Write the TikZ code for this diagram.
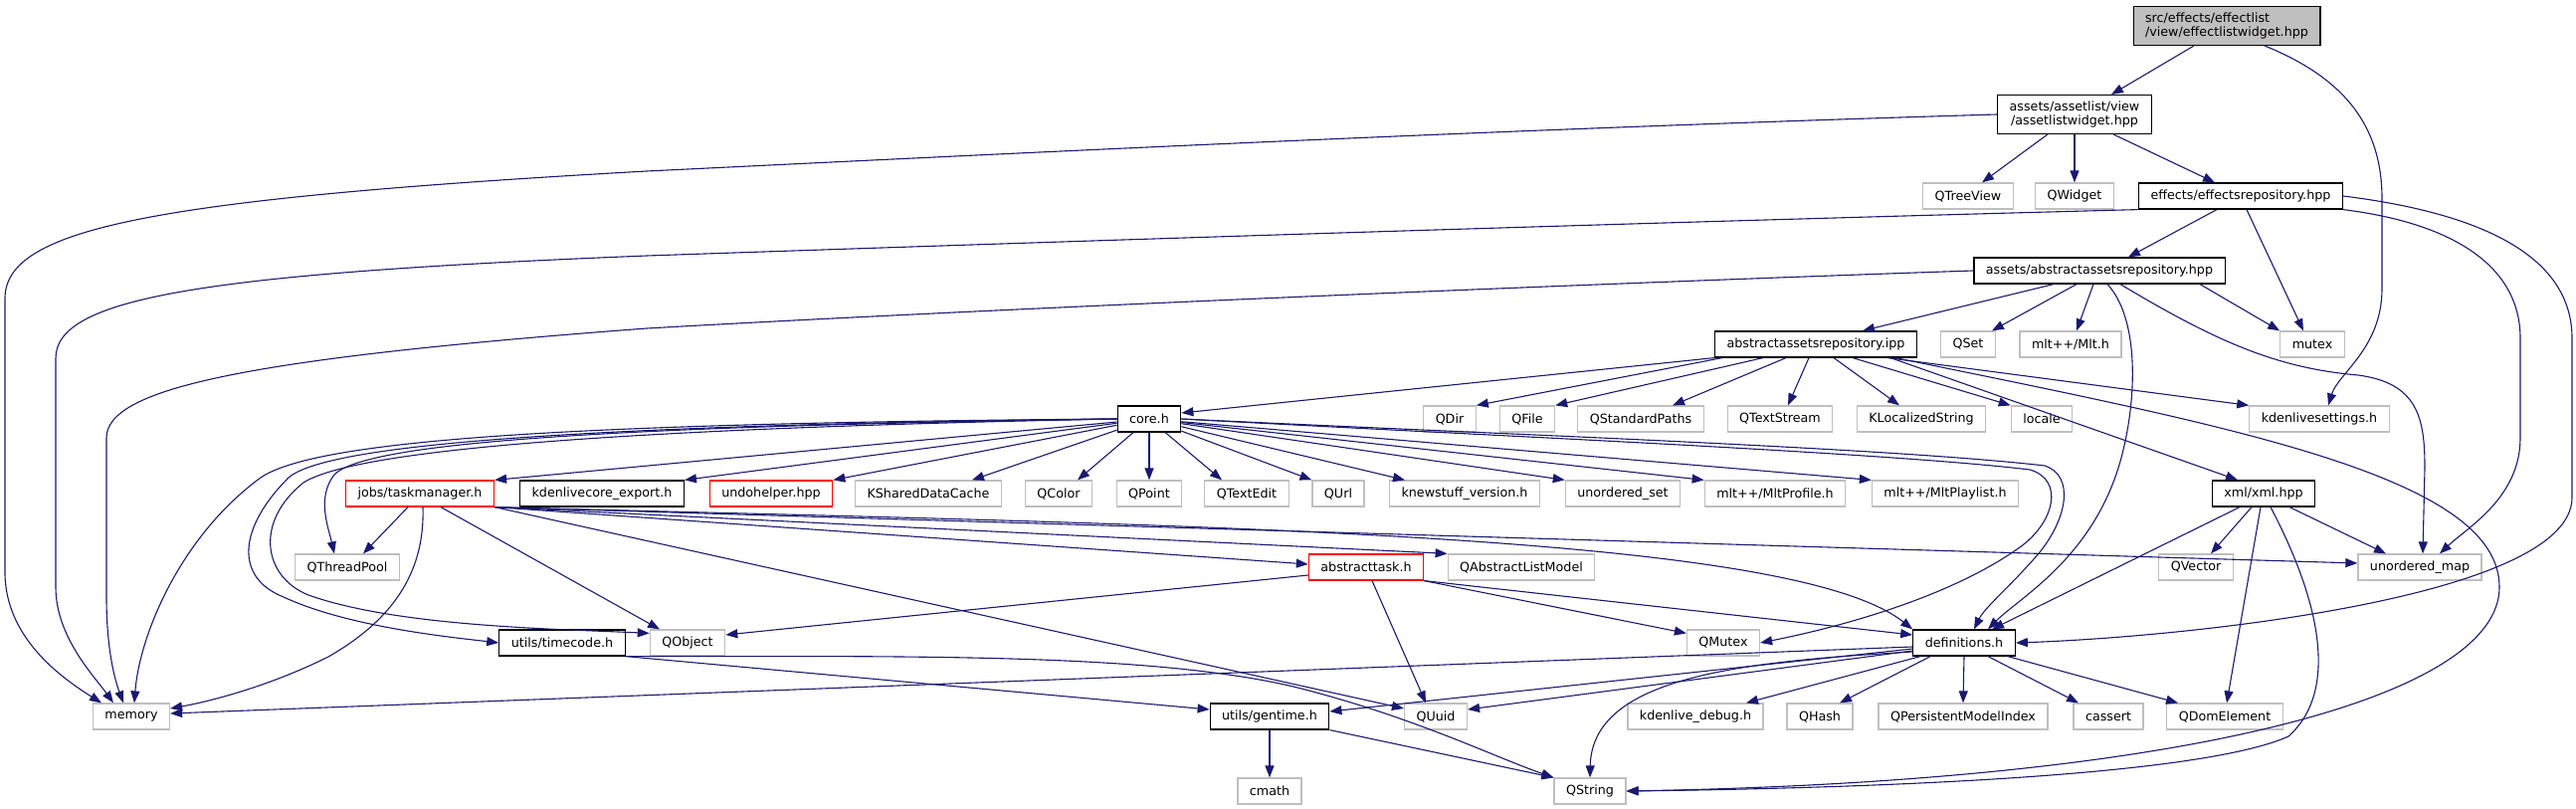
\documentclass[tikz,border=0pt]{standalone}
\usepackage{fontspec}
\setmainfont{DejaVu Sans}
\usepackage{tikz}
\usetikzlibrary{arrows.meta}
\definecolor{EdgeBlue}{HTML}{191970}
\definecolor{ExtGray}{HTML}{BFBFBF}
\definecolor{RootGray}{HTML}{BFBFBF}
\definecolor{TruncRed}{HTML}{FF0000}
\tikzset{
  file/.style={draw=black, fill=white, line width=1.2pt, minimum height=26pt,
               inner xsep=12pt, inner ysep=6pt, font=\fontsize{12.7}{14.5}\selectfont},
  ext/.style={file, draw=ExtGray},
  trunc/.style={file, draw=TruncRed},
  rootfile/.style={file, fill=RootGray, align=left},
  dep/.style={-{Triangle[length=12pt,width=9pt]}, line width=1.1pt, color=EdgeBlue}
}

\begin{document}
\begin{tikzpicture}[x=1pt,y=-1pt]
\useasboundingbox (0,0) rectangle (2589,813);

% files
\node[rootfile] (root) at (2238,26) {src/effects/effectlist\\/view/effectlistwidget.hpp};
\node[file, align=center] (alw) at (2085,115) {assets/assetlist/view\\/assetlistwidget.hpp};
\node[ext] (qtv) at (1978,197) {QTreeView};
\node[ext] (qwidget) at (2085,197) {QWidget};
\node[file] (efr) at (2252,197) {effects/effectsrepository.hpp};
\node[file] (aar) at (2110,272) {assets/abstractassetsrepository.hpp};
\node[ext] (qset) at (1978,346) {QSet};
\node[ext] (mlth) at (2081,346) {mlt++/Mlt.h};
\node[ext] (mutex) at (2324,346) {mutex};
\node[file] (ipp) at (1825,346) {abstractassetsrepository.ipp};

\node[file] (core) at (1155,421) {core.h};
\node[ext] (qdir) at (1457,421) {QDir};
\node[ext] (qfile) at (1535,421) {QFile};
\node[ext] (qsp) at (1649,421) {QStandardPaths};
\node[ext] (qts) at (1789,421) {QTextStream};
\node[ext] (kls) at (1931,421) {KLocalizedString};
\node[ext] (locale) at (2052,421) {locale};
\node[ext] (kset) at (2331,421) {kdenlivesettings.h};

\node[trunc] (tm) at (422,496) {jobs/taskmanager.h};
\node[file] (kce) at (605,496) {kdenlivecore\_export.h};
\node[trunc] (undo) at (775,496) {undohelper.hpp};
\node[ext] (ksdc) at (933,496) {KSharedDataCache};
\node[ext] (qcolor) at (1064,496) {QColor};
\node[ext] (qpoint) at (1155,496) {QPoint};
\node[ext] (qtextedit) at (1253,496) {QTextEdit};
\node[ext] (qurl) at (1345,496) {QUrl};
\node[ext] (knewstuff) at (1472,496) {knewstuff\_version.h};
\node[ext] (uset) at (1631,496) {unordered\_set};
\node[ext] (mltprofile) at (1784,496) {mlt++/MltProfile.h};
\node[ext] (mltplaylist) at (1955,496) {mlt++/MltPlaylist.h};
\node[file] (xml) at (2275,496) {xml/xml.hpp};

\node[ext] (qtp) at (349,570) {QThreadPool};
\node[trunc] (atask) at (1373,570) {abstracttask.h};
\node[ext] (qalm) at (1529,570) {QAbstractListModel};
\node[ext] (qvector) at (2207,570) {QVector};
\node[ext] (umap) at (2432,570) {unordered\_map};

\node[file] (timecode) at (565,646) {utils/timecode.h};
\node[ext] (qobject) at (691,646) {QObject};
\node[ext] (qmutex) at (1732,646) {QMutex};
\node[file] (defs) at (1974,646) {definitions.h};

\node[ext] (mem) at (132,720) {memory};
\node[file] (gentime) at (1276,720) {utils/gentime.h};
\node[ext] (quuid) at (1443,720) {QUuid};
\node[ext] (kdebug) at (1704,720) {kdenlive\_debug.h};
\node[ext] (qhash) at (1829,720) {QHash};
\node[ext] (qpmi) at (1973,720) {QPersistentModelIndex};
\node[ext] (cassert) at (2119,720) {cassert};
\node[ext] (qdom) at (2236,720) {QDomElement};

\node[ext] (cmath) at (1276,795) {cmath};
\node[ext] (qstring) at (1598,795) {QString};

% effectlistwidget.hpp
\draw[dep] ([xshift=-33pt]root.south) -- ([xshift=37pt]alw.north);
\draw[dep] ([xshift=38pt]root.south) .. controls (2360,80) and (2394,130) .. (2394,200) -- (2394,290) .. controls (2394,350) and (2350,375) .. ([xshift=9pt]kset.north);

% assetlistwidget.hpp
\draw[dep] (alw.west) .. controls (1500,130) and (1000,155) .. (650,172) .. controls (150,200) and (5,230) .. (5,300) -- (5,575) .. controls (5,640) and (60,680) .. ([xshift=-30pt]mem.north);
\draw[dep] ([xshift=-27pt]alw.south) -- ([xshift=14pt]qtv.north);
\draw[dep] (alw.south) -- (qwidget.north);
\draw[dep] ([xshift=39pt]alw.south) -- ([xshift=-26pt]efr.north);

% effectsrepository.hpp
\draw[dep] (efr.south west) .. controls (1600,225) and (1000,245) .. (650,257) .. controls (200,275) and (56,300) .. (56,360) -- (56,590) .. controls (56,640) and (95,680) .. ([xshift=-18pt]mem.north);
\draw[dep] ([xshift=-24pt]efr.south) -- ([xshift=29pt]aar.north);
\draw[dep] ([xshift=6pt]efr.south) -- ([xshift=-9pt]mutex.north);
\draw[dep] (efr.south east) .. controls (2470,225) and (2533,270) .. (2533,340) -- (2533,440) .. controls (2533,500) and (2480,530) .. ([xshift=20pt]umap.north);
\draw[dep] (efr.east) .. controls (2500,215) and (2585,260) .. (2585,340) -- (2585,500) .. controls (2585,600) and (2200,640) .. (defs.east);

% abstractassetsrepository.hpp
\draw[dep] (aar.west) .. controls (1600,285) and (1000,310) .. (650,330) .. controls (250,360) and (107,390) .. (107,440) -- (107,600) .. controls (107,660) and (118,690) .. ([xshift=-8pt]mem.north);
\draw[dep] ([xshift=-46pt]aar.south) -- ([xshift=47pt]ipp.north);
\draw[dep] ([xshift=-23pt]aar.south) -- ([xshift=24pt]qset.north);
\draw[dep] ([xshift=-6pt]aar.south) -- ([xshift=6pt]mlth.north);
\draw[dep] ([xshift=8pt]aar.south) .. controls (2150,320) and (2148,400) .. (2132,460) .. controls (2105,560) and (2030,600) .. ([xshift=24pt]defs.north);
\draw[dep] ([xshift=21pt]aar.south) .. controls (2230,345) and (2290,370) .. (2370,377) .. controls (2430,385) and (2437,420) .. (2437,470) -- ([xshift=3pt]umap.north);
\draw[dep] ([xshift=101pt]aar.south) -- (mutex.north west);

% abstractassetsrepository.ipp
\draw[dep] (ipp.south west) -- ([yshift=6pt]core.east);
\draw[dep] ([xshift=-94pt]ipp.south) -- (qdir.north east);
\draw[dep] ([xshift=-53pt]ipp.south) -- (qfile.north east);
\draw[dep] ([xshift=-30pt]ipp.south) -- ([xshift=32pt]qsp.north);
\draw[dep] ([xshift=-7pt]ipp.south) -- ([xshift=8pt]qts.north);
\draw[dep] ([xshift=18pt]ipp.south) -- ([xshift=-22pt]kls.north);
\draw[dep] ([xshift=37pt]ipp.south) -- (locale.north west);
\draw[dep] ([xshift=72pt]ipp.south) -- (kset.north west);
\draw[dep] ([xshift=75pt]ipp.south) -- ([xshift=-26pt]xml.north);
\draw[dep] ([xshift=80pt]ipp.south) .. controls (2250,430) and (2512,480) .. (2512,590) .. controls (2512,700) and (2200,785) .. (qstring.east);

% core.h
\draw[dep] (core) -- (tm.north east);
\draw[dep] (core) -- (kce.north east);
\draw[dep] (core) -- (undo.north east);
\draw[dep] (core) -- ([xshift=44pt]ksdc.north);
\draw[dep] (core) -- ([xshift=19pt]qcolor.north);
\draw[dep] (core) -- (qpoint);
\draw[dep] (core) -- ([xshift=-25pt]qtextedit.north);
\draw[dep] (core) -- (qurl.north west);
\draw[dep] (core) -- ([xshift=-60pt]knewstuff.north);
\draw[dep] (core) -- (uset.north west);
\draw[dep] (core) -- (mltprofile.north west);
\draw[dep] (core) -- (mltplaylist.north west);
\draw[dep] (core.west) .. controls (600,425) and (320,440) .. (262,480) .. controls (180,540) and (140,640) .. ([xshift=3pt]mem.north);
\draw[dep] (core.west) .. controls (650,428) and (370,442) .. (336,477) .. controls (318,500) and (330,530) .. ([xshift=-13pt]qtp.north);
\draw[dep] (core.west) .. controls (600,427) and (330,445) .. (290,480) .. controls (240,530) and (235,580) .. (285,600) .. controls (350,630) and (450,640) .. (timecode.west);
\draw[dep] (core.west) .. controls (650,430) and (360,450) .. (305,485) .. controls (255,525) and (265,580) .. (310,598) .. controls (400,630) and (560,632) .. ([yshift=-4pt]qobject.north west);
\draw[dep] (core.east) .. controls (1500,438) and (1900,455) .. (2040,472) .. controls (2075,482) and (2065,525) .. (2030,550) .. controls (1960,600) and (1850,630) .. (qmutex.east);
\draw[dep] (core.east) .. controls (1500,436) and (1900,450) .. (2055,468) .. controls (2085,478) and (2078,520) .. (2050,555) .. controls (2020,590) and (1995,610) .. ([xshift=10pt]defs.north);

% jobs/taskmanager.h
\draw[dep] ([xshift=-12pt]tm.south) -- ([xshift=16pt]qtp.north);
\draw[dep] ([xshift=3pt]tm.south) .. controls (427,570) and (400,620) .. (330,660) .. controls (270,690) and (210,705) .. ([yshift=8pt]mem.east);
\draw[dep] ([xshift=21pt]tm.south) -- ([xshift=-28pt]qobject.north);
\draw[dep] (tm.south east) -- ([yshift=8pt]quuid.west);
\draw[dep] (tm.south east) -- ([yshift=3pt]atask.west);
\draw[dep] (tm.south east) -- (qalm.north west);
\draw[dep] (tm.south east) -- ([yshift=4pt]umap.west);
\draw[dep] (tm.south east) .. controls (1200,528) and (1800,535) .. (defs.north west);

% abstracttask.h
\draw[dep] ([yshift=-8pt]atask.west) -- ([yshift=8pt]qobject.east);
\draw[dep] ([xshift=6pt]atask.south) -- ([xshift=-10pt]quuid.north);
\draw[dep] (atask.south east) -- ([yshift=-4pt]qmutex.north west);
\draw[dep] (atask.south east) -- ([yshift=8pt]defs.west);

% definitions.h
\draw[dep] ([yshift=-4pt]defs.west) -- ([yshift=3pt]mem.east);
\draw[dep] ([yshift=-6pt]defs.west) -- ([yshift=5pt]gentime.east);
\draw[dep] ([yshift=-8pt]defs.west) -- ([yshift=7pt]quuid.east);
\draw[dep] ([yshift=-9pt]defs.west) .. controls (1750,665) and (1600,680) .. (qstring.north);
\draw[dep] ([xshift=8pt]defs.south west) -- ([xshift=51pt]kdebug.north);
\draw[dep] ([xshift=18pt]defs.south west) -- ([xshift=20pt]qhash.north);
\draw[dep] (defs.south) -- (qpmi.north);
\draw[dep] ([xshift=24pt]defs.south) -- ([xshift=-30pt]cassert.north);
\draw[dep] ([xshift=-8pt]defs.south east) -- ([xshift=-47pt]qdom.north);

% utils
\draw[dep] (timecode.south east) -- ([yshift=7pt]gentime.west);
\draw[dep] (timecode.south east) .. controls (900,660) and (1150,655) .. (1300,690) .. controls (1420,720) and (1500,760) .. (qstring.north west);
\draw[dep] (gentime) -- (cmath);
\draw[dep] (gentime.south east) -- (qstring.north west);

% xml/xml.hpp
\draw[dep] ([xshift=-24pt]xml.south) -- ([xshift=28pt]defs.north);
\draw[dep] ([xshift=-12pt]xml.south) -- ([xshift=15pt]qvector.north);
\draw[dep] ([xshift=-3pt]xml.south) -- ([xshift=2pt]qdom.north);
\draw[dep] ([xshift=7pt]xml.south) .. controls (2340,620) and (2345,700) .. (2300,740) .. controls (2200,785) and (1800,793) .. (qstring.east);
\draw[dep] ([xshift=26pt]xml.south) -- ([xshift=-34pt]umap.north);
\end{tikzpicture}
\end{document}
